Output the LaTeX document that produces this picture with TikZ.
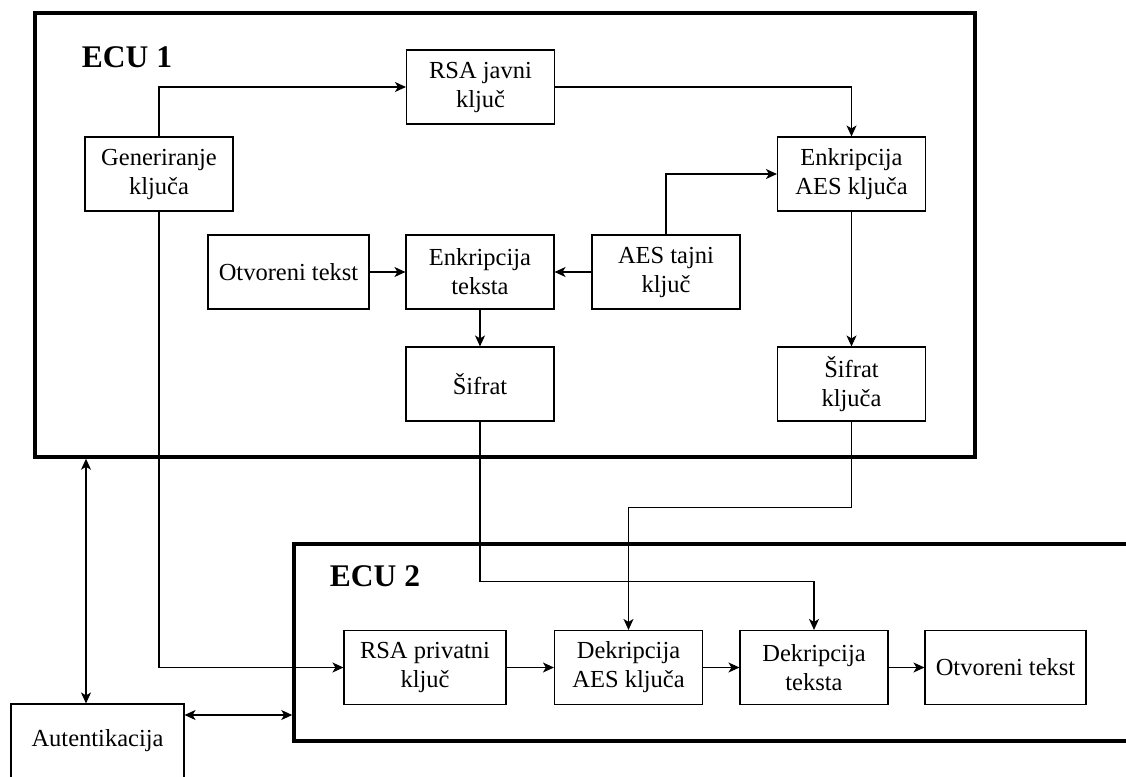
\documentclass[tikz,border=0pt]{standalone}
\usepackage{fontspec}
\setmainfont{Liberation Serif}
\usetikzlibrary{arrows.meta}

\begin{document}
\begin{tikzpicture}[
		x=1pt, y=-1pt,
		block/.style={rectangle, draw, line width=1.1pt, minimum width=148pt, minimum height=74pt, inner sep=0pt, align=center, font=\fontsize{24.5pt}{29pt}\selectfont},
		ecubox/.style={rectangle, draw, line width=3.5pt, inner sep=0pt},
		ecutitle/.style={inner sep=0pt, font=\fontsize{31.5pt}{36pt}\selectfont\bfseries},
		arrow/.style={-{Stealth[length=11pt,width=10pt,inset=3pt]}, line width=1.1pt},
		biarrow/.style={{Stealth[length=11pt,width=10pt,inset=3pt]}-{Stealth[length=11pt,width=10pt,inset=3pt]}, line width=1.1pt}
	]
		\clip (0,0) rectangle (1126,776);
		
		% ECU frames
		\node[ecubox, minimum width=940pt, minimum height=444pt] (ecu1) at (505,235) {};
		\node[ecubox, minimum width=860pt, minimum height=197pt] (ecu2) at (724,642.5) {};
		\node[ecutitle] (t1) at (127,57) {ECU 1};
		\node[ecutitle] (t2) at (375,576) {ECU 2};
		
		% ECU 1
		\node[block] (gen) at (159,174) {Generiranje\\ključa};
		\node[block] (rsapub) at (480.5,87) {RSA javni\\ključ};
		\node[block] (encaes) at (851.5,174) {Enkripcija\\AES ključa};
		\node[block, minimum width=161pt] (plain1) at (288.5,272) {Otvoreni tekst};
		\node[block] (enctxt) at (480,272) {Enkripcija\\teksta};
		\node[block] (aeskey) at (666,272) {AES tajni\\ključ};
		\node[block] (cipher) at (480,384) {Šifrat};
		\node[block] (cipherkey) at (851.5,384) {Šifrat\\ključa};
		
		% ECU 2
		\node[block, minimum width=162pt] (rsapriv) at (425,667.5) {RSA privatni\\ključ};
		\node[block] (decaes) at (628.5,667.5) {Dekripcija\\AES ključa};
		\node[block] (dectxt) at (814,667.5) {Dekripcija\\teksta};
		\node[block, minimum width=161pt] (plain2) at (1005.5,667.5) {Otvoreni tekst};
		
		% Authentication
		\node[block, minimum width=173pt] (auth) at (97.5,741) {Autentikacija};
		\coordinate (authup) at ([xshift=-11.5pt]auth.north);
		\coordinate (authside) at ([yshift=26pt]auth.east);
		
		% Arrows
		\draw[arrow] (gen.north) |- (rsapub.west);
		\draw[arrow] (rsapub.east) -| (encaes.north);
		\draw[arrow] (aeskey.north) |- (encaes.west);
		\draw[arrow] (plain1) -- (enctxt);
		\draw[arrow] (aeskey) -- (enctxt);
		\draw[arrow] (enctxt) -- (cipher);
		\draw[arrow] (encaes) -- (cipherkey);
		\draw[arrow] (cipher.south) -- ++(0,160) -| (dectxt.north);
		\draw[arrow] (cipherkey.south) -- ++(0,86) -| (decaes.north);
		\draw[arrow] (gen.south) |- (rsapriv.west);
		\draw[arrow] (rsapriv) -- (decaes);
		\draw[arrow] (decaes) -- (dectxt);
		\draw[arrow] (dectxt) -- (plain2);
		\draw[biarrow] (authup) -- (authup |- ecu1.south);
		\draw[biarrow] (authside) -- (authside -| ecu2.west);
	\end{tikzpicture}
\end{document}
